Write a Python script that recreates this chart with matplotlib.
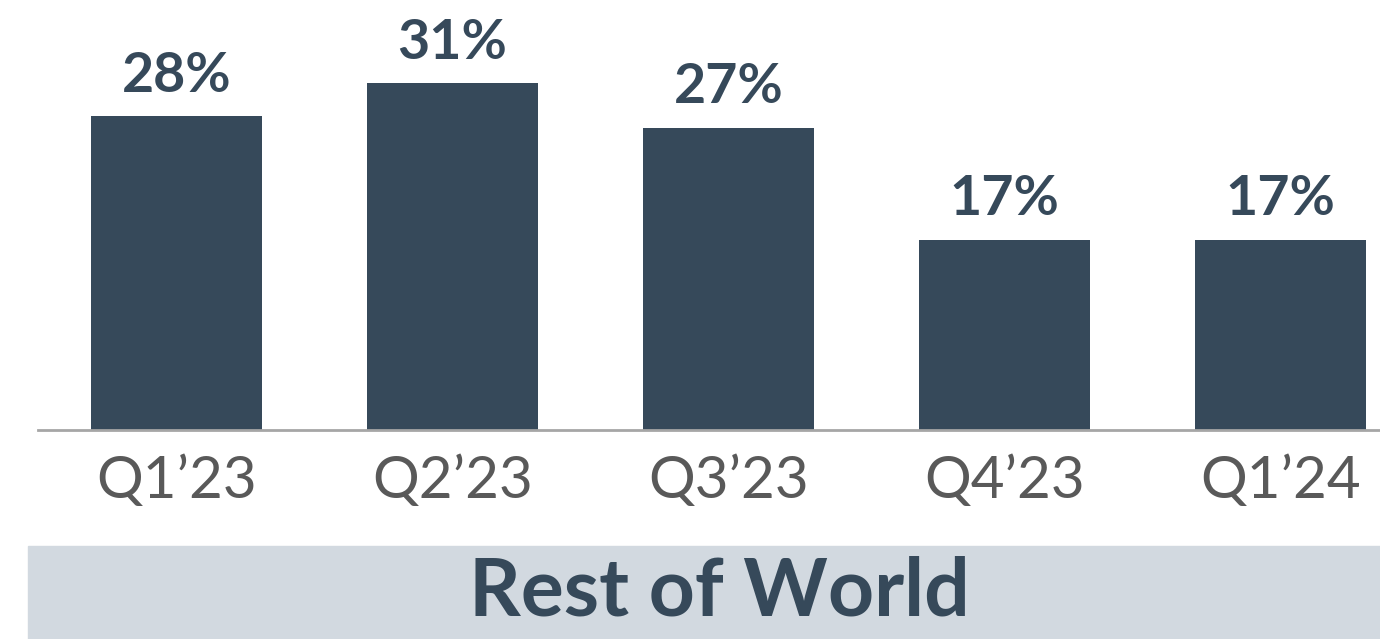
import matplotlib
matplotlib.use("Agg")
import matplotlib.pyplot as plt
from matplotlib.patches import Rectangle

categories = ["Q1\u201923", "Q2\u201923", "Q3\u201923", "Q4\u201923", "Q1\u201924"]
values = [28, 31, 27, 17, 17]
labels = ["28%", "31%", "27%", "17%", "17%"]
title = "Rest of World"

W, H = 1380, 639
fig = plt.figure(figsize=(W / 100, H / 100), dpi=100)
fig.patch.set_facecolor("white")

bar_color = "#36495a"
ax = fig.add_axes([38 / W, (H - 430) / H, 1342 / W, 430 / H])
x = list(range(len(categories)))
ax.bar(x, values, width=0.62, color=bar_color)
ax.set_xlim(-0.502, 4.3605)
ax.set_ylim(0, 38.4)
for s in ["top", "right", "left"]:
    ax.spines[s].set_visible(False)
ax.spines["bottom"].set_color("#a6a6a6")
ax.spines["bottom"].set_linewidth(2)
ax.set_yticks([])
ax.set_xticks(x)
ax.set_xticklabels(categories, fontsize=42, color="#595959", family="Lato")
ax.tick_params(axis="x", length=0, pad=18)
for xi, v, lab in zip(x, values, labels):
    ax.annotate(lab, (xi, v), xytext=(0, 11), textcoords="offset points",
                ha="center", va="bottom", fontsize=40, fontweight="bold",
                color=bar_color, family="Lato")

fig.patches.append(Rectangle((28 / W, 0), (W - 28) / W, 93 / H,
                             transform=fig.transFigure, color="#d2d9e0", zorder=0))
fig.text(719 / W, 46 / H, title, ha="center", va="center", fontsize=58,
         fontweight="bold", color=bar_color, family="Lato")

fig.savefig("out.png", dpi=100)
